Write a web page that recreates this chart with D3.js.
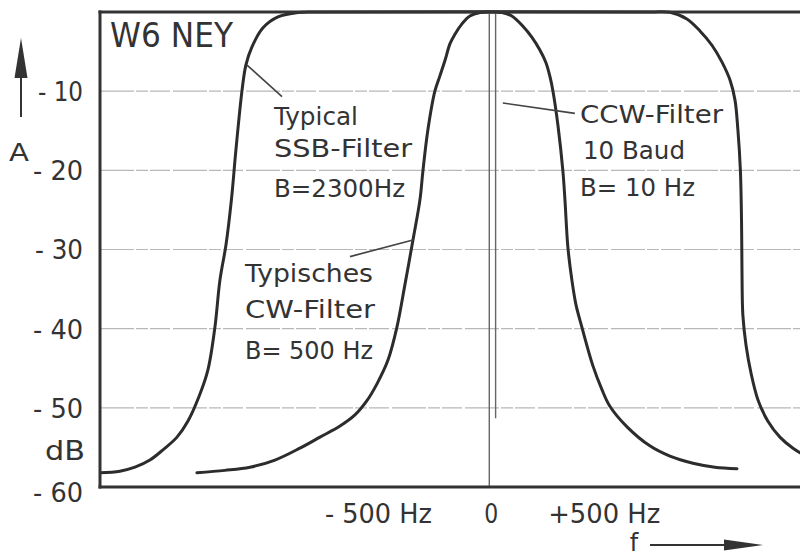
<!DOCTYPE html>
<html><head><meta charset="utf-8">
<script src="https://cdn.jsdelivr.net/npm/d3@7"></script>
<style>
html,body{margin:0;padding:0;background:#fff;}
svg{display:block;}
text{font-family:"DejaVu Sans",sans-serif;fill:#333;}
</style>
</head><body><div id="chart"></div>
<script>
// ---- data (frequency offset in Hz, attenuation in dB) ----
const ssbFreq = [-1811,-1722,-1634,-1567,-1501,-1443,-1381,-1333,-1284,-1244,-1213,-1191,-1164,-1140,-1120,-1093,-1076,-1049,-1000,-934,-845,-748,
                 713,802,877,935,988,1032,1068,1090,1103,1114,1119,1121,1125,1139,1161,1192,1236,1289,1347,1413,1511];
const ssbDb   = [-58.2,-58.2,-58.0,-57.5,-56.6,-55.3,-53.7,-51.7,-48.6,-45.2,-39.8,-33.9,-29.4,-23.7,-17.4,-9.9,-6.7,-4.4,-2.0,-0.63,-0.06,0,
                 0,-0.04,-0.88,-2.4,-4.2,-6.3,-8.6,-11.1,-14.9,-20.0,-26.3,-32.6,-38.3,-42.1,-45.6,-49.0,-51.7,-53.7,-55.1,-56.2,-57.2];
const cwFreq  = [-1293,-1169,-1058,-947,-837,-748,-659,-593,-540,-496,-447,-407,-372,-336,-305,-292,-270,-239,-217,-194,-172,-150,-119,-84,-39,9,
                 58,102,151,191,226,253,271,284,306,328,337,350,368,386,412,461,501,536,612,713,802,904,1001,1099];
const cwDb    = [-58.2,-57.9,-57.5,-56.6,-55.1,-53.7,-52.3,-50.9,-49.1,-47.0,-44.0,-39.8,-34.5,-28.8,-23.7,-20.1,-14.9,-10.0,-8.1,-6.1,-4.0,-2.8,-1.5,-0.5,-0.06,0,
                 -0.06,-0.5,-1.8,-3.2,-4.8,-6.4,-8.2,-10.0,-14.3,-20.1,-23.7,-29.7,-33.9,-37.0,-39.8,-44.7,-47.7,-49.8,-52.4,-54.8,-56.1,-57.0,-57.5,-57.7];
const ccwFreq  = [2, 30];
const ccwDepth = [-60, -51.3];
const yTickValues = [-10,-20,-30,-40,-50,-60];
const yTickLabels = ["- 10","- 20","- 30","- 40","- 50","- 60"];
const xTickValues = [-500, 0, 500];
const xTickLabels = ["- 500 Hz","0","+500 Hz"];
const gridValues  = [-10,-20,-30,-40,-50];

// ---- layout ----
const W = 800, H = 557;
const ink = "#333";
const svg = d3.select("#chart").append("svg").attr("width", W).attr("height", H);
const x = d3.scaleLinear().domain([-1722, 1378]).range([100, 800]);
const y = d3.scaleLinear().domain([0, -60]).range([12, 487]);

svg.append("defs").append("clipPath").attr("id","plot")
  .append("rect").attr("x",100).attr("y",8).attr("width",700).attr("height",481);

// grid
svg.append("g").selectAll("line").data(gridValues).join("line")
  .attr("x1", x.range()[0]).attr("x2", x.range()[1])
  .attr("y1", d => y(d)).attr("y2", d => y(d))
  .attr("stroke", "#b8b8b8").attr("stroke-width", 1.2)
  .attr("stroke-dasharray", "34,2,12,2,20,3");

// curves
const line = d3.line().x(d => x(d.f)).y(d => y(d.db)).curve(d3.curveCatmullRom.alpha(0.5));
const ssb = ssbFreq.map((f,i) => ({f, db: ssbDb[i]}));
const cw  = cwFreq.map((f,i) => ({f, db: cwDb[i]}));
const curves = svg.append("g").attr("clip-path","url(#plot)");
curves.selectAll("path.c").data([ssb, cw]).join("path").attr("class","c")
  .attr("d", line).attr("fill","none").attr("stroke", "#2c2c2c")
  .attr("stroke-width", 3).attr("stroke-linecap","round").attr("stroke-linejoin","round");
// CCW filter (10 Hz), narrow spike
curves.selectAll("line.ccw").data(ccwFreq).join("line").attr("class","ccw")
  .attr("x1", d => x(d)).attr("x2", d => x(d))
  .attr("y1", y(0)).attr("y2", (d,i) => y(ccwDepth[i]))
  .attr("stroke", "#666").attr("stroke-width", 1.4);

// frame
const fr = svg.append("g").attr("stroke", ink).attr("stroke-width", 3).attr("stroke-linecap","square");
fr.append("line").attr("x1",100).attr("x2",800).attr("y1",y(0)).attr("y2",y(0));
fr.append("line").attr("x1",100).attr("x2",100).attr("y1",y(0)).attr("y2",y(-60));
fr.append("line").attr("x1",100).attr("x2",800).attr("y1",y(-60)).attr("y2",y(-60));

// y axis labels
const yLen = [45,50,48,50,50,50];
const gy = svg.append("g").attr("transform","translate(100,0)")
  .call(d3.axisLeft(y).tickValues(yTickValues).tickFormat((d,i)=>yTickLabels[i]).tickSize(0).tickPadding(17));
gy.select(".domain").remove();
gy.selectAll(".tick text").attr("font-family","DejaVu Sans").attr("font-size",26).attr("fill",ink)
  .attr("textLength",(d,i)=>yLen[i]).attr("lengthAdjust","spacingAndGlyphs")
  .attr("dy",(d)=> d === -60 ? "0.55em" : "0.36em");

// x axis labels
const xLen = [107, 14, 112];
const gx = svg.append("g").attr("transform",`translate(0,${y(-60)})`)
  .call(d3.axisBottom(x).tickValues(xTickValues).tickFormat((d,i)=>xTickLabels[i]).tickSize(0).tickPadding(18));
gx.select(".domain").remove();
gx.selectAll(".tick text").attr("font-family","DejaVu Sans").attr("font-size",26).attr("fill",ink)
  .attr("dx", 2).attr("textLength",(d,i)=>xLen[i]).attr("lengthAdjust","spacingAndGlyphs");

// axis titles and arrows
function txt(s, x0, yb, size, len, anchor){
  const t = svg.append("text").attr("x",x0).attr("y",yb).attr("font-size",size).text(s);
  if (len) t.attr("textLength",len).attr("lengthAdjust","spacingAndGlyphs");
  if (anchor) t.attr("text-anchor",anchor);
  return t;
}
txt("A", 9, 161, 24, 20);
txt("dB", 85, 460, 27, 40, "end");
txt("f", 634, 551, 24, null, "middle");
svg.append("line").attr("x1",21).attr("x2",21).attr("y1",117).attr("y2",70).attr("stroke",ink).attr("stroke-width",2);
svg.append("path").attr("d","M21,38 L14.5,78 L27.5,78 Z").attr("fill",ink);
svg.append("line").attr("x1",650).attr("x2",730).attr("y1",545).attr("y2",545).attr("stroke",ink).attr("stroke-width",2);
svg.append("path").attr("d","M724,539.5 L763,545 L724,550.5 Z").attr("fill",ink);

// annotations
txt("W6 NEY", 110, 47, 33, 123);
txt("Typical", 274, 125, 24, 84);
txt("SSB-Filter", 274, 157, 24, 138);
txt("B=2300Hz", 274, 197, 24, 131);
txt("CCW-Filter", 580, 123, 24, 143);
txt("10 Baud", 583, 159, 24, 102);
txt("B= 10 Hz", 580, 196, 24, 115);
txt("Typisches", 245, 282, 24, 128);
txt("CW-Filter", 245, 318, 24, 130);
txt("B= 500 Hz", 245, 359, 24, 128);

// leader lines (data coordinates)
const leaders = [
  [[-1071,-6.7],[-916,-10.7]],
  [[62,-11.5],[381,-12.8]],
  [[-615,-30.9],[-336,-28.8]]
];
svg.append("g").selectAll("line").data(leaders).join("line")
  .attr("x1",d=>x(d[0][0])).attr("y1",d=>y(d[0][1]))
  .attr("x2",d=>x(d[1][0])).attr("y2",d=>y(d[1][1]))
  .attr("stroke","#444").attr("stroke-width",1.6);
</script>
</body></html>
